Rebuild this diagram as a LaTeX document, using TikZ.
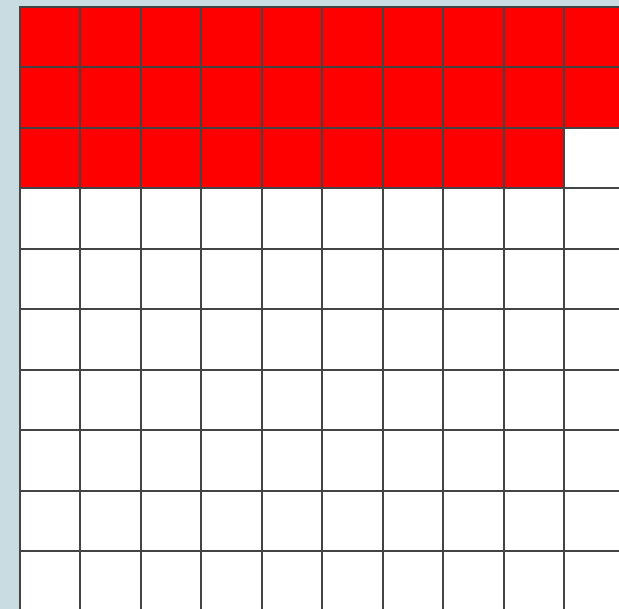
\documentclass[tikz,border=0pt]{standalone}
\definecolor{bgc}{HTML}{C9DCE2}
\definecolor{gridc}{HTML}{444444}
\tikzset{cell/.style={draw=gridc,line width=2pt,fill=white,minimum size=60.44pt,inner sep=0pt,outer sep=0pt,anchor=north west},
  redcell/.style={cell,fill=red}}
\begin{document}
\begin{tikzpicture}[x=1pt,y=-1pt]
\useasboundingbox (0,0) rectangle (619,609);
\clip (0,0) rectangle (619,609);
\fill[bgc] (0,0) rectangle (619,609);
\foreach \r in {0,...,10}{
  \foreach \c in {0,...,10}{
    \pgfmathtruncatemacro{\idx}{\r*10+\c}
    \ifnum\c<10
      \ifnum\idx<29
        \node[redcell] (c\r-\c) at ({20+60.44*\c},{7+60.44*\r}) {};
      \else
        \node[cell] (c\r-\c) at ({20+60.44*\c},{7+60.44*\r}) {};
      \fi
    \else
      \node[cell] (c\r-\c) at ({20+60.44*\c},{7+60.44*\r}) {};
    \fi
  }
}
\end{tikzpicture}
\end{document}
